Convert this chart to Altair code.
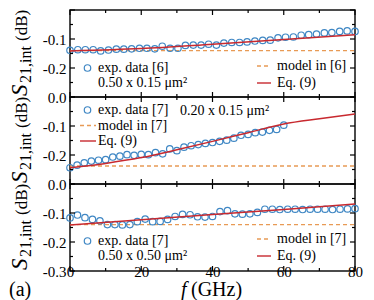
import altair as alt
import pandas as pd

FONT = "Liberation Serif"
W, H = 285, 87
BLUE = "#3f87c4"
RED = "#c8292f"
ORANGE = "#e89a55"

# ---- data ----
top_f = [0, 2.2, 4.3, 6.5, 8.6, 10.8, 13.0, 15.1, 17.3, 19.5, 21.6, 23.8, 25.9, 28.1,
         30.3, 32.4, 34.6, 36.8, 38.9, 41.1, 43.2, 45.4, 47.6, 49.7, 51.9, 54.1, 56.2,
         58.4, 60.5, 62.7, 64.9, 67.0, 69.2, 71.4, 73.5, 75.7, 77.8, 80.0]
top_s = [-0.139, -0.137, -0.137, -0.137, -0.141, -0.138, -0.135, -0.135, -0.134, -0.132,
         -0.132, -0.134, -0.125, -0.132, -0.132, -0.122, -0.121, -0.121, -0.118, -0.121,
         -0.114, -0.112, -0.112, -0.110, -0.107, -0.105, -0.104, -0.096, -0.094, -0.093,
         -0.087, -0.085, -0.083, -0.079, -0.078, -0.074, -0.072, -0.074]
top_eq_f = [0, 20, 40, 60, 80]
top_eq_s = [-0.141, -0.133, -0.118, -0.102, -0.085]
top_model = -0.140

mid_f = [0, 2, 4, 6, 8, 10, 12, 14, 16, 18, 20, 22, 24, 26, 28, 30, 32, 34, 36, 38, 40,
         42, 44, 46, 48, 50, 52, 54, 56, 58, 60]
mid_s = [-0.244, -0.235, -0.227, -0.221, -0.218, -0.216, -0.207, -0.204, -0.199, -0.201,
         -0.198, -0.199, -0.192, -0.196, -0.179, -0.185, -0.173, -0.168, -0.164, -0.160,
         -0.157, -0.153, -0.149, -0.142, -0.132, -0.129, -0.123, -0.121, -0.115, -0.112,
         -0.097]
mid_eq_f = [0, 10, 20, 30, 40, 50, 60, 70, 80]
mid_eq_s = [-0.244, -0.229, -0.209, -0.182, -0.153, -0.123, -0.093, -0.075, -0.059]
mid_model = -0.238

bot_f = [0, 2.1, 4.2, 6.3, 8.4, 10.5, 12.6, 14.7, 16.8, 18.9, 21.1, 23.2, 25.3, 27.4,
         29.5, 31.6, 33.7, 35.8, 37.9, 40.0, 42.1, 44.2, 46.3, 48.4, 50.5, 52.6, 54.7,
         56.8, 58.9, 61.1, 63.2, 65.3, 67.4, 69.5, 71.6, 73.7, 75.8, 77.9, 80.0]
bot_s = [-0.117, -0.107, -0.116, -0.122, -0.127, -0.140, -0.140, -0.141, -0.140, -0.130,
         -0.121, -0.130, -0.129, -0.122, -0.112, -0.105, -0.106, -0.113, -0.114, -0.112,
         -0.095, -0.092, -0.103, -0.104, -0.103, -0.098, -0.087, -0.087, -0.088, -0.087,
         -0.087, -0.088, -0.087, -0.087, -0.087, -0.088, -0.087, -0.086, -0.085]
bot_eq_f = [0, 20, 40, 60, 80]
bot_eq_s = [-0.141, -0.123, -0.105, -0.088, -0.069]
bot_model = -0.140

x_major = [0, 20, 40, 60, 80]
x_minor = [10, 30, 50, 70]
y_major = [0, -0.1, -0.2, -0.3]
y_minor = [-0.05, -0.15, -0.25]

xs = alt.Scale(domain=[0, 80], nice=False, zero=False)
ys = alt.Scale(domain=[-0.3, 0], nice=False, zero=False)


def txt(t, x, y, size=14, style="normal", angle=0, align="left", baseline="middle"):
    kw = dict(font=FONT, fontSize=size, fontStyle=style, align=align,
              baseline=baseline, color="black")
    if angle:
        kw["angle"] = angle
    return alt.Chart(pd.DataFrame({"t": [t]})).mark_text(**kw).encode(
        x=alt.value(x), y=alt.value(y), text="t:N")


def legend_circle(x, y):
    return alt.Chart(pd.DataFrame({"t": [0]})).mark_point(
        shape="circle", filled=False, size=42, stroke=BLUE, strokeWidth=1.2, opacity=1
    ).encode(x=alt.value(x), y=alt.value(y))


def legend_line(x1, x2, y, dashed):
    kw = dict(color=ORANGE if dashed else RED, strokeWidth=1.4)
    if dashed:
        kw["strokeDash"] = [4, 3]
    return alt.Chart(pd.DataFrame({"t": [0]})).mark_rule(**kw).encode(
        x=alt.value(x1), x2=alt.value(x2), y=alt.value(y))


def panel(fv, sv, eqf, eqv, model, ylabels, extras, bottom=False):
    if bottom:
        xaxis = alt.Axis(values=x_major, labelFont=FONT, labelFontSize=15,
                         labelColor="black", ticks=False, domain=False, grid=False,
                         title=None, labelPadding=-7, labelFlush=False)
    else:
        xaxis = alt.Axis(labels=False, ticks=False, domain=False, grid=False, title=None)
    yaxis = alt.Axis(values=ylabels, labelFont=FONT, labelFontSize=15,
                     labelColor="black", ticks=False, domain=False, grid=False,
                     title=None, labelPadding=4, labelFlush=False,
                     labelExpr="replace(datum.label, '\u2212', '-')")
    X = alt.X("f:Q", scale=xs, axis=xaxis)
    Y = alt.Y("v:Q", scale=ys, axis=yaxis)

    layers = []
    mdf = pd.DataFrame({"f": [0, 80], "v": [model, model]})
    layers.append(alt.Chart(mdf).mark_line(color=ORANGE, strokeDash=[4, 3],
                                           strokeWidth=1.3).encode(x=X, y=Y))
    ddf = pd.DataFrame({"f": fv, "v": sv})
    layers.append(alt.Chart(ddf).mark_point(shape="circle", filled=False, size=42,
                                            stroke=BLUE, strokeWidth=1.2, opacity=1)
                  .encode(x=X, y=Y))
    edf = pd.DataFrame({"f": eqf, "v": eqv})
    layers.append(alt.Chart(edf).mark_line(color=RED, strokeWidth=1.5,
                                           interpolate="monotone").encode(x=X, y=Y))
    # inward ticks
    for vals, ln in ((y_major, 5), (y_minor, 3)):
        d = pd.DataFrame({"v": vals})
        layers.append(alt.Chart(d).mark_rule(color="black", strokeWidth=1.2).encode(
            y=Y, x=alt.value(0), x2=alt.value(ln)))
        layers.append(alt.Chart(d).mark_rule(color="black", strokeWidth=1.2).encode(
            y=Y, x=alt.value(W), x2=alt.value(W - ln)))
    for vals, ln in ((x_major, 5), (x_minor, 3)):
        d = pd.DataFrame({"f": vals})
        layers.append(alt.Chart(d).mark_rule(color="black", strokeWidth=1.2).encode(
            x=X, y=alt.value(0), y2=alt.value(ln)))
        layers.append(alt.Chart(d).mark_rule(color="black", strokeWidth=1.2).encode(
            x=X, y=alt.value(H), y2=alt.value(H - ln)))
    # y title: S_{21,int} (dB)
    y0 = 86
    layers.append(txt("S", -43, y0, size=23, style="italic", angle=270, baseline="alphabetic"))
    layers.append(txt("21,int", -39, y0 - 13, size=16, angle=270, baseline="alphabetic"))
    layers.append(txt("(dB)", -43, y0 - 55, size=17, angle=270, baseline="alphabetic"))
    layers.extend(extras)
    return alt.layer(*layers).properties(width=W, height=H)


top_extras = [
    legend_circle(17.5, 58), txt("exp. data [6]", 28, 58), txt("0.50 x 0.15 \u03bcm\u00b2", 28, 73),
    legend_line(187, 201, 56, True), txt("model in [6]", 207, 56),
    legend_line(187, 201, 73, False), txt("Eq. (9)", 207, 73),
]
mid_extras = [
    legend_circle(17.5, 13), txt("exp. data [7]", 28, 13),
    legend_line(10, 26, 28.5, True), txt("model in [7]", 28, 28.5),
    legend_line(10, 26, 44, False), txt("Eq. (9)", 28, 44),
    txt("0.20 x 0.15 \u03bcm\u00b2", 110, 14),
]
bot_extras = [
    legend_circle(17.5, 57), txt("exp. data [7]", 28, 57), txt("0.50 x 0.50 \u03bcm\u00b2", 28, 72),
    legend_line(187, 201, 55, True), txt("model in [7]", 207, 55),
    legend_line(187, 201, 72, False), txt("Eq. (9)", 207, 72),
    txt("f", 111, 112, size=20, style="italic", baseline="alphabetic"),
    txt("(GHz)", 121, 112, size=20, baseline="alphabetic"),
    txt("(a)", -61, 112, size=20, baseline="alphabetic"),
]

p1 = panel(top_f, top_s, top_eq_f, top_eq_s, top_model, [-0.1, -0.2], top_extras)
p2 = panel(mid_f, mid_s, mid_eq_f, mid_eq_s, mid_model, [0, -0.1, -0.2], mid_extras)
p3 = panel(bot_f, bot_s, bot_eq_f, bot_eq_s, bot_model, [0, -0.1, -0.2, -0.3], bot_extras,
           bottom=True)

chart = alt.vconcat(p1, p2, p3, spacing=0, bounds="flush").properties(
    padding={"left": 0, "top": 0, "right": 0, "bottom": 0}
).configure_view(stroke="#111", strokeWidth=1.5)

chart.save("out.html", embed_options={"renderer": "svg", "actions": False})
